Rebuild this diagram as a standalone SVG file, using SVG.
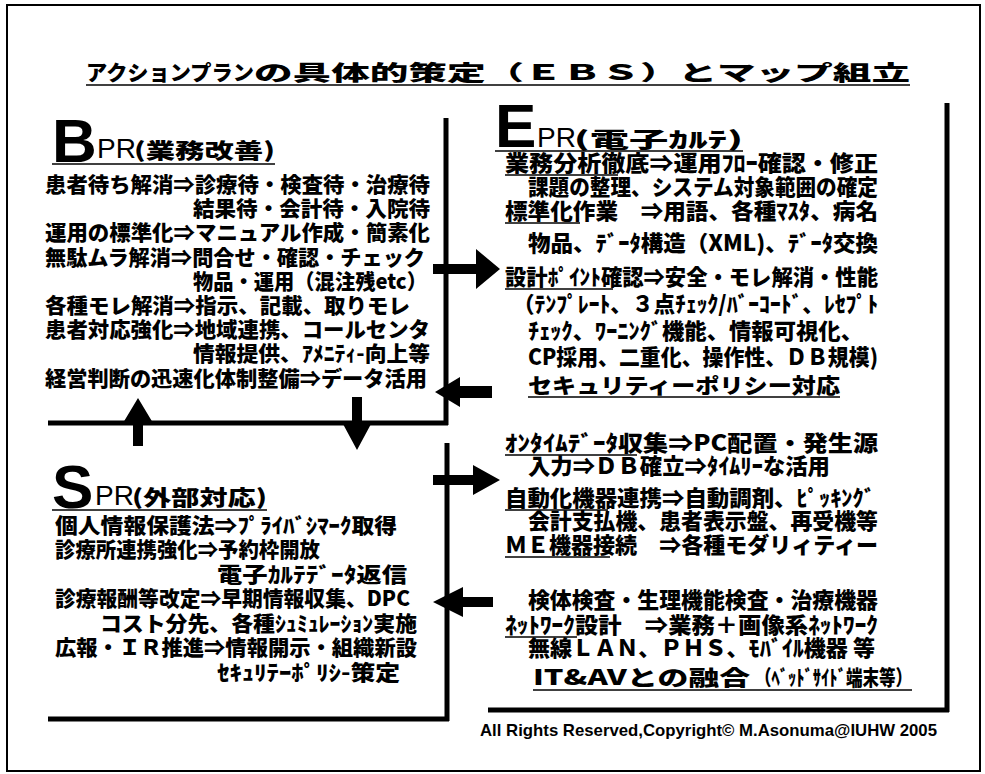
<svg xmlns="http://www.w3.org/2000/svg" width="985" height="774" viewBox="0 0 985 774">
<style>
.j{font-family:"Noto Sans CJK JP","Noto Sans CJK SC",sans-serif;font-weight:900;font-size:21px;fill:#000}
.e{font-size:22px}
.big{font-family:"Liberation Sans",Arial,sans-serif;font-weight:bold;font-size:62px;fill:#000}
.pr{font-family:"Liberation Sans",Arial,sans-serif;font-weight:normal}
.u{stroke:#000;stroke-width:1.6}
.bx{stroke:#000;stroke-width:5;fill:none}
.ar{fill:#000}
</style>
<rect x="0" y="0" width="985" height="774" fill="#fff"/>
<rect x="7" y="5" width="973" height="766" fill="none" stroke="#000" stroke-width="2"/>

<g id="title">
<text class="j" x="86" y="80" font-size="39" textLength="168" lengthAdjust="spacingAndGlyphs">アクションプラン</text>
<text class="j" x="254" y="80" font-size="39" textLength="656" lengthAdjust="spacingAndGlyphs">の具体的策定（ＥＢＳ）とマップ組立</text>
<line class="u" x1="86" y1="85" x2="910" y2="85" stroke-width="2"/>
</g>

<g id="node-bpr">
<line class="bx" x1="446" y1="118" x2="446" y2="425" stroke-width="4"/>
<line class="bx" x1="48" y1="423" x2="448" y2="423"/>
<text class="big" x="52" y="162">B</text>
<text class="pr" x="97" y="158" font-size="28">PR</text>
<text class="j" x="134" y="158" font-size="26" textLength="141" lengthAdjust="spacingAndGlyphs">(業務改善)</text>
<line class="u" x1="52" y1="164" x2="275" y2="164"/>
<text class="j" x="45" y="192" textLength="385" lengthAdjust="spacingAndGlyphs">患者待ち解消⇒診療待・検査待・治療待</text>
<text class="j" x="193" y="216" textLength="237" lengthAdjust="spacingAndGlyphs">結果待・会計待・入院待</text>
<text class="j" x="45" y="240" textLength="385" lengthAdjust="spacingAndGlyphs">運用の標準化⇒マニュアル作成・簡素化</text>
<text class="j" x="45" y="265" textLength="380" lengthAdjust="spacingAndGlyphs">無駄ムラ解消⇒問合せ・確認・チェック</text>
<text class="j" x="193" y="289" textLength="234" lengthAdjust="spacingAndGlyphs">物品・運用（混注残etc）</text>
<text class="j" x="45" y="313" textLength="365" lengthAdjust="spacingAndGlyphs">各種モレ解消⇒指示、記載、取りモレ</text>
<text class="j" x="45" y="337" textLength="385" lengthAdjust="spacingAndGlyphs">患者対応強化⇒地域連携、コールセンタ</text>
<text class="j" x="193" y="361" textLength="237" lengthAdjust="spacingAndGlyphs">情報提供、ｱﾒﾆﾃｨ-向上等</text>
<text class="j" x="45" y="386" textLength="382" lengthAdjust="spacingAndGlyphs">経営判断の迅速化体制整備⇒データ活用</text>
</g>

<g id="node-spr">
<line class="bx" x1="447" y1="443" x2="447" y2="721" stroke-width="4"/>
<line class="bx" x1="48" y1="719" x2="449" y2="719"/>
<text class="big" x="52" y="508">S</text>
<text class="pr" x="95" y="505" font-size="28">PR</text>
<text class="j" x="132" y="505" font-size="26" textLength="135" lengthAdjust="spacingAndGlyphs">(外部対応)</text>
<line class="u" x1="52" y1="510" x2="267" y2="510"/>
<text class="j" x="55" y="533" textLength="342" lengthAdjust="spacingAndGlyphs">個人情報保護法⇒ﾌﾟﾗｲﾊﾞｼﾏｰｸ取得</text>
<text class="j" x="55" y="557" textLength="265" lengthAdjust="spacingAndGlyphs">診療所連携強化⇒予約枠開放</text>
<text class="j" x="217" y="582" textLength="190" lengthAdjust="spacingAndGlyphs">電子ｶﾙﾃﾃﾞｰﾀ返信</text>
<text class="j" x="55" y="606" textLength="355" lengthAdjust="spacingAndGlyphs">診療報酬等改定⇒早期情報収集、DPC</text>
<text class="j" x="100" y="631" textLength="317" lengthAdjust="spacingAndGlyphs">コスト分先、各種ｼｭﾐｭﾚｰｼｮﾝ実施</text>
<text class="j" x="55" y="655" textLength="362" lengthAdjust="spacingAndGlyphs">広報・ＩＲ推進⇒情報開示・組織新設</text>
<text class="j" x="217" y="680" textLength="183" lengthAdjust="spacingAndGlyphs">ｾｷｭﾘﾃｰﾎﾟﾘｼ-策定</text>
</g>

<g id="node-epr">
<line class="bx" x1="947" y1="103" x2="947" y2="712"/>
<line class="bx" x1="488" y1="710" x2="949" y2="710" stroke-width="4"/>
<text class="big" x="495" y="147">E</text>
<text class="pr" x="537" y="147" font-size="28">PR</text>
<text class="j" x="574" y="147" font-size="26" textLength="169" lengthAdjust="spacingAndGlyphs">(電子ｶﾙﾃ)</text>
<line class="u" x1="495" y1="151" x2="743" y2="151"/>
<text class="j e" x="505" y="171" textLength="373" lengthAdjust="spacingAndGlyphs">業務分析徹底⇒運用ﾌﾛｰ確認・修正</text>
<line class="u" x1="505" y1="175" x2="618" y2="175"/>
<text class="j e" x="528" y="195" textLength="350" lengthAdjust="spacingAndGlyphs">課題の整理、システム対象範囲の確定</text>
<text class="j e" x="505" y="219" textLength="373" lengthAdjust="spacingAndGlyphs">標準化作業　⇒用語、各種ﾏｽﾀ、病名</text>
<line class="u" x1="505" y1="223" x2="580" y2="223"/>
<text class="j e" x="528" y="251" textLength="350" lengthAdjust="spacingAndGlyphs">物品、ﾃﾞｰﾀ構造（XML)、ﾃﾞｰﾀ交換</text>
<text class="j e" x="505" y="285" textLength="373" lengthAdjust="spacingAndGlyphs">設計ﾎﾟｲﾝﾄ確認⇒安全・モレ解消・性能</text>
<line class="u" x1="505" y1="289" x2="613" y2="289"/>
<text class="j e" x="513" y="312" textLength="365" lengthAdjust="spacingAndGlyphs">（ﾃﾝﾌﾟﾚｰﾄ、３点ﾁｪｯｸ/ﾊﾞｰｺｰﾄﾞ、ﾚｾﾌﾟﾄ</text>
<text class="j e" x="528" y="339" textLength="335" lengthAdjust="spacingAndGlyphs">ﾁｪｯｸ、ﾜｰﾆﾝｸﾞ機能、情報可視化、</text>
<text class="j e" x="528" y="365" textLength="350" lengthAdjust="spacingAndGlyphs">CP採用、二重化、操作性、ＤＢ規模)</text>
<text class="j" x="528" y="393" font-size="24" textLength="312" lengthAdjust="spacingAndGlyphs">セキュリティーポリシー対応</text>
<line class="u" x1="528" y1="397" x2="840" y2="397"/>

<text class="j e" x="505" y="451" textLength="373" lengthAdjust="spacingAndGlyphs">ｵﾝﾀｲﾑﾃﾞｰﾀ収集⇒PC配置・発生源</text>
<line class="u" x1="505" y1="455" x2="637" y2="455"/>
<text class="j e" x="528" y="474" textLength="302" lengthAdjust="spacingAndGlyphs">入力⇒ＤＢ確立⇒ﾀｲﾑﾘｰな活用</text>
<text class="j e" x="505" y="506" textLength="370" lengthAdjust="spacingAndGlyphs">自動化機器連携⇒自動調剤、ﾋﾟｯｷﾝｸﾞ</text>
<line class="u" x1="505" y1="510" x2="608" y2="510"/>
<text class="j e" x="528" y="529" textLength="350" lengthAdjust="spacingAndGlyphs">会計支払機、患者表示盤、再受機等</text>
<text class="j e" x="505" y="553" textLength="373" lengthAdjust="spacingAndGlyphs">ＭＥ機器接続　⇒各種モダリィティー</text>
<line class="u" x1="505" y1="557" x2="610" y2="557"/>
<text class="j e" x="528" y="608" textLength="350" lengthAdjust="spacingAndGlyphs">検体検査・生理機能検査・治療機器</text>
<text class="j e" x="505" y="633" textLength="373" lengthAdjust="spacingAndGlyphs">ﾈｯﾄﾜｰｸ設計　⇒業務＋画像系ﾈｯﾄﾜｰｸ</text>
<line class="u" x1="505" y1="637" x2="577" y2="637"/>
<text class="j e" x="528" y="656" textLength="347" lengthAdjust="spacingAndGlyphs">無線ＬＡＮ、ＰＨＳ、ﾓﾊﾞｲﾙ機器 等</text>
<text class="j" x="533" y="685" font-size="25" textLength="217" lengthAdjust="spacingAndGlyphs">IT&amp;AVとの融合</text>
<text class="j" x="755" y="685" font-size="16" textLength="157" lengthAdjust="spacingAndGlyphs">（ﾍﾞｯﾄﾞｻｲﾄﾞ端末等）</text>
<line class="u" x1="533" y1="690" x2="912" y2="690"/>
</g>

<g id="connectors">
<polygon class="ar" points="433,264 476,264 476,249 500,269 476,289 476,274 433,274"/>
<polygon class="ar" points="492,386 460,386 460,377 435,392 460,407 460,398 492,398"/>
<polygon class="ar" points="133,446 133,423 123,423 138,398 153,423 143,423 143,446"/>
<polygon class="ar" points="352,397 362,397 362,424 371,424 357,450 343,424 352,424"/>
<polygon class="ar" points="433,475 473,475 473,465 500,480 473,495 473,485 433,485"/>
<polygon class="ar" points="493,597 463,597 463,587 433,602 463,617 463,607 493,607"/>
</g>

<g id="copyright">
<text x="480" y="736" font-family="'Liberation Sans',Arial,sans-serif" font-weight="bold" font-size="17" textLength="457" lengthAdjust="spacingAndGlyphs">All Rights Reserved,Copyright© M.Asonuma@IUHW 2005</text>
</g>
</svg>
